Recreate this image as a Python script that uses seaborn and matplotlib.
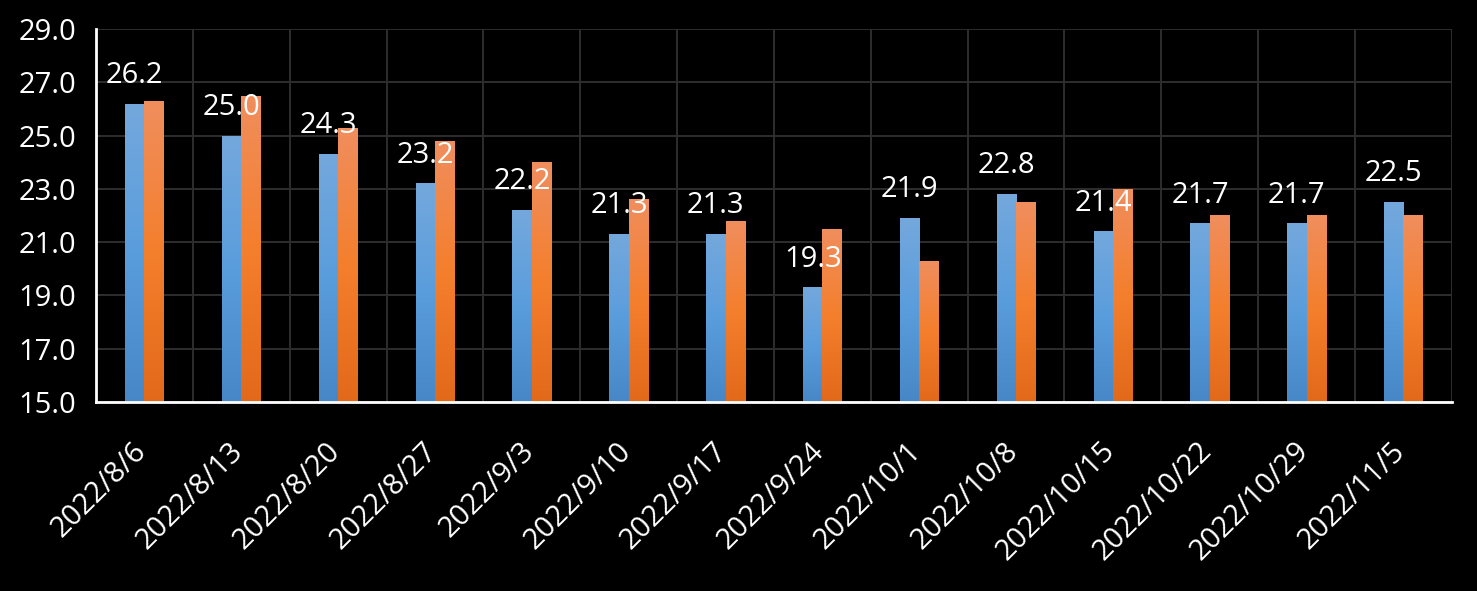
import numpy as np
import pandas as pd
import matplotlib
matplotlib.use("Agg")
import matplotlib.pyplot as plt
import matplotlib.transforms as mtransforms
from matplotlib.colors import LinearSegmentedColormap
import seaborn as sns

categories = ["2022/8/6", "2022/8/13", "2022/8/20", "2022/8/27", "2022/9/3", "2022/9/10",
              "2022/9/17", "2022/9/24", "2022/10/1", "2022/10/8", "2022/10/15",
              "2022/10/22", "2022/10/29", "2022/11/5"]
series_a = [26.2, 25.0, 24.3, 23.2, 22.2, 21.3, 21.3, 19.3, 21.9, 22.8, 21.4, 21.7, 21.7, 22.5]
series_b = [26.3, 26.5, 25.3, 24.8, 24.0, 22.6, 21.8, 21.5, 20.3, 22.5, 23.0, 22.0, 22.0, 22.0]
series_names = ["A", "B"]
y_ticks = [15.0, 17.0, 19.0, 21.0, 23.0, 25.0, 27.0, 29.0]

df = pd.DataFrame({
    "date": categories * 2,
    "value": series_a + series_b,
    "series": [series_names[0]] * len(categories) + [series_names[1]] * len(categories),
})

sns.set_theme(style="dark")
plt.rcParams["font.family"] = ["Open Sans", "DejaVu Sans"]

FS = 21

fig = plt.figure(figsize=(14.77, 5.91), dpi=100, facecolor="black")
ax = fig.add_axes([0.065, 0.320, 0.918, 0.631])
ax.set_facecolor("black")

palette = {"A": "#5B9BD5", "B": "#ED7D31"}
sns.barplot(data=df, x="date", y="value", hue="series", palette=palette,
            width=0.4, gap=0, legend=False, ax=ax, saturation=1, zorder=3,
            linewidth=0, edgecolor="none")

ax.set_ylim(15, 29)
ax.set_xlim(-0.5, len(categories) - 0.5)
ax.set_yticks(y_ticks)
ax.set_yticklabels([f"{v:.1f}" for v in y_ticks])
ax.set_xlabel("")
ax.set_ylabel("")

# gradients
grad_blue = LinearSegmentedColormap.from_list("gb", ["#4787C7", "#5A9DDC", "#74A8DD"])
grad_orange = LinearSegmentedColormap.from_list("go", ["#E2691A", "#F47F2D", "#F08E5E"])
grad = np.linspace(0, 1, 256).reshape(-1, 1)
n = len(categories)
for i, p in enumerate(ax.patches[: 2 * n]):
    x0 = p.get_x()
    w = p.get_width()
    h = p.get_y() + p.get_height()
    cmap = grad_blue if i < n else grad_orange
    im = ax.imshow(grad, cmap=cmap, origin="lower", aspect="auto",
                   extent=[x0, x0 + w, 15, h], zorder=4)
    im.set_clip_path(p)
ax.set_xlim(-0.5, len(categories) - 0.5)
ax.set_ylim(15, 29)

# value labels on series A
for i, v in enumerate(series_a):
    p = ax.patches[i]
    cx = p.get_x() + p.get_width() / 2
    ax.annotate(f"{v:.1f}", (cx, v), xytext=(0, 15), textcoords="offset points",
                ha="center", va="baseline", color="white", fontsize=FS, zorder=6)

# grid and axes
ax.set_xticks(np.arange(-0.5, n, 1.0), minor=True)
ax.grid(False)
ax.grid(axis="y", which="major", color="#2e2e2e", linewidth=1.4, zorder=0)
ax.grid(axis="x", which="minor", color="#2e2e2e", linewidth=1.4, zorder=0)
ax.tick_params(axis="x", which="major", length=0, pad=25, colors="white", labelsize=FS)
ax.tick_params(axis="x", which="minor", length=9, width=2, color="white", direction="out")
ax.tick_params(axis="y", length=0, pad=14, colors="white", labelsize=FS)
for lbl in ax.get_xticklabels():
    lbl.set_rotation(45)
    lbl.set_ha("right")
    lbl.set_transform(lbl.get_transform() + mtransforms.ScaledTranslation(8 / 100, 0, fig.dpi_scale_trans))

for s in ["top", "right"]:
    ax.spines[s].set_visible(False)
ax.spines["left"].set_color("white")
ax.spines["left"].set_linewidth(2)
ax.spines["bottom"].set_color("white")
ax.spines["bottom"].set_linewidth(2)
ax.spines["left"].set_zorder(7)
ax.spines["bottom"].set_zorder(7)

fig.savefig("out.png", dpi=100, facecolor="black")
